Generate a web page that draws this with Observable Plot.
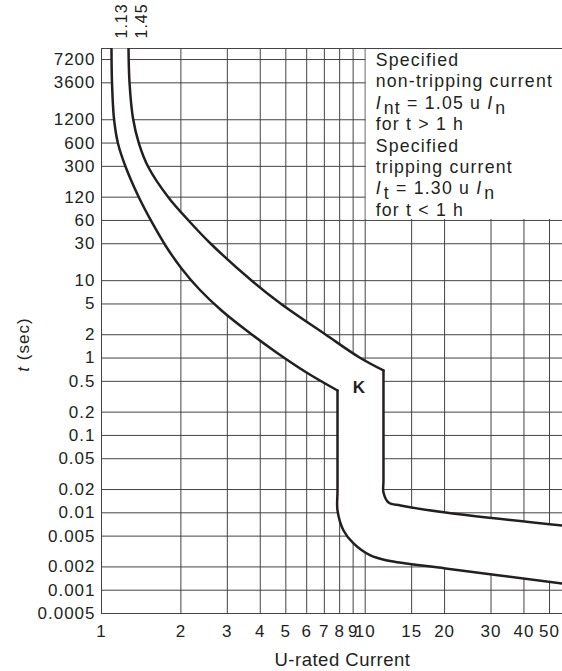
<!DOCTYPE html>
<html><head><meta charset="utf-8">
<script src="https://cdn.jsdelivr.net/npm/d3@7"></script>
<script src="https://cdn.jsdelivr.net/npm/@observablehq/plot@0.6"></script>
<style>
body{margin:0;background:#fff;}
#chart svg{display:block;font-family:'Liberation Sans',Arial,sans-serif;font-size:17px;letter-spacing:1px;color:#231f20;background:#fff;overflow:visible;}
#chart svg text{white-space:pre;}
</style></head><body><div id="chart"></div>
<script>
// Tick values
const xTicks = [1,2,3,4,5,6,7,8,9,10,15,20,30,40,50];
const yTicks = [0.0005,0.001,0.002,0.005,0.01,0.02,0.05,0.1,0.2,0.5,1,2,5,10,30,60,120,300,600,1200,3600,7200];

// 1.13 curve (lower limit): arm above K, then arm below K  (current multiple, time in s)
const lowUpperI = [1.091,1.096,1.115,1.155,1.233,1.381,1.547,1.748,2.011,2.353,2.852,3.548,4.609,5.99,7.852];
const lowUpperT = [10000,3637,1246,592,298.7,122.4,58.2,28.5,14.37,7.69,4.12,2.27,1.18,0.651,0.381];
const lowLowerI = [7.852,7.852,7.852,8.276,9.03,10.47,12.15,20.16,56];
const lowLowerT = [0.381,0.01944,0.01072,0.00591,0.00402,0.00281,0.00242,0.00191,0.00122];
// 1.45 curve (upper limit)
const highUpperI = [1.266,1.277,1.317,1.387,1.508,1.795,2.138,2.591,3.706,4.773,7.07,9.515,11.73];
const highUpperT = [10000,3637,1246,592,290,118.8,59.9,30.2,10.05,5.07,2.015,1.017,0.691];
const highLowerI = [11.73,11.73,11.73,12.26,13.61,20.16,56];
const highLowerT = [0.691,0.02617,0.01832,0.0136,0.01244,0.0101,0.00686];

// Labels
const curveLabels = ["1.13","1.45"];
const curveLabelI = [1.13,1.35];
const kLabel = [{i:9.5, t:0.42, text:"K"}];
const noteBox = [{i1:10, i2:56, t1:60, t2:10000}];
const noteLines = [
  [["Specified",""]],
  [["non-tripping current",""]],
  [["I","i"],["nt","s"],[" = 1.05 u ",""],["I","i"],["n","s"]],
  [["for t > 1 h",""]],
  [["Specified",""]],
  [["tripping current",""]],
  [["I","i"],["t","s"],[" = 1.30 u ",""],["I","i"],["n","s"]],
  [["for t < 1 h",""]]
];

const seg = (name, I, T) => I.map((x,k)=>({curve:name, x, t:T[k]}));
const strokes = [
  ...seg("a",lowUpperI,lowUpperT), ...seg("b",lowLowerI,lowLowerT),
  ...seg("c",highUpperI,highUpperT), ...seg("d",highLowerI,highLowerT)
];
// closed outline of the band (corner points repeated so the spline keeps them sharp)
const band = [
  ...seg("f",lowUpperI,lowUpperT),
  ...seg("f",lowLowerI,lowLowerT),
  ...seg("f",[...lowLowerI].slice(-1),[...lowLowerT].slice(-1)),
  ...seg("f",[...highLowerI].slice(-1),[...highLowerT].slice(-1)),
  ...seg("f",[...highLowerI].reverse(),[...highLowerT].reverse()),
  ...seg("f",[...highUpperI].reverse(),[...highUpperT].reverse())
];

const ink = "#231f20", grid = "#444";
const plot = Plot.plot({
  width: 562, height: 671,
  marginLeft: 101, marginRight: 0, marginTop: 48, marginBottom: 58,
  x: {type:"log", domain:[1,56], axis:null},
  y: {type:"log", domain:[0.0005,10000], axis:null},
  marks: [
    Plot.ruleX(xTicks, {stroke:grid, strokeWidth:1}),
    Plot.ruleY(yTicks, {stroke:grid, strokeWidth:1}),
    Plot.rect(noteBox, {x1:"i1", x2:"i2", y1:"t1", y2:"t2", fill:"white", insetLeft:1, insetBottom:1}),
    Plot.ruleY([10000], {stroke:grid, strokeWidth:1}),
    Plot.line(band, {x:"x", y:"t", fill:"white", stroke:"none", curve:"catmull-rom", clip:true}),
    Plot.line(strokes, {x:"x", y:"t", z:"curve", stroke:ink, strokeWidth:2.5, curve:"catmull-rom", clip:true}),
    // tick labels
    Plot.text(yTicks, {y:d=>d, text:d=>String(d), frameAnchor:"left", textAnchor:"end", dx:-6, fontSize:17, fill:ink}),
    Plot.text(xTicks, {x:d=>d, text:d=>String(d), frameAnchor:"bottom", lineAnchor:"top", dy:11, fontSize:17, fill:ink, style:"letter-spacing:0px"}),
    Plot.text(kLabel, {x:"i", y:"t", text:"text", fontWeight:"bold", fontSize:17, fill:ink}),
    Plot.text(curveLabels, {x:curveLabelI, text:d=>d, frameAnchor:"top", rotate:-90, textAnchor:"start", dy:-10, fontSize:16, fill:ink})
  ]
});
document.getElementById("chart").appendChild(plot);

const svg = d3.select(plot);
const xs = plot.scale("x"), ys = plot.scale("y");
// note text block
const bx = xs.apply(10) + 11, by = ys.apply(10000) + 18;
const g = svg.append("g").attr("fill", ink).attr("text-anchor","start")
  .style("font-size","17.7px").style("letter-spacing","1.2px");
noteLines.forEach((segs, k) => {
  const t = g.append("text").attr("x", bx).attr("y", by + k*21.4);
  let down = false;
  segs.forEach(([s, kind]) => {
    const ts = t.append("tspan").text(s);
    if (kind === "i") ts.attr("font-style","italic");
    if (kind === "s" && !down) { ts.attr("dy", 5).attr("dx", 2); down = true; }
    else if (kind !== "s" && down) { ts.attr("dy", -5); down = false; }
  });
});
// axis titles
const yt = svg.append("text").attr("fill", ink).attr("text-anchor","middle")
  .attr("transform", `translate(29,${ys.apply(1) - 13}) rotate(-90)`).style("font-size","17px");
yt.append("tspan").attr("font-style","italic").text("t");
yt.append("tspan").text(" (sec)");
svg.append("text").attr("fill", ink).attr("text-anchor","middle")
  .attr("x", (xs.apply(1) + xs.apply(56))/2 + 11).attr("y", 666)
  .style("font-size","18.5px").style("letter-spacing","0.5px").text("U-rated Current");
</script></body></html>
